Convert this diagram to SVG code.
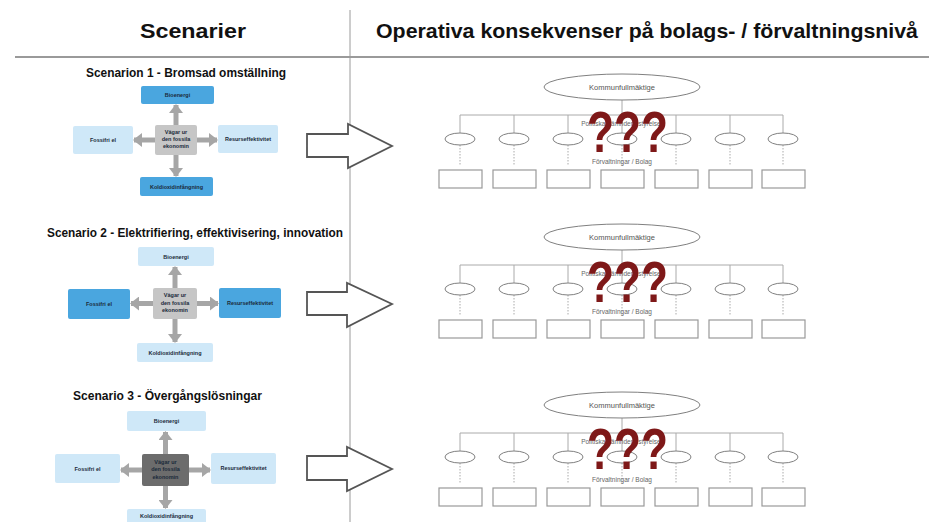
<svg xmlns="http://www.w3.org/2000/svg" width="929" height="522" viewBox="0 0 929 522">
<style>
text{font-family:"Liberation Sans",Arial,sans-serif;}
.h{font-size:21px;font-weight:bold;fill:#111;}
.st{font-size:12.5px;font-weight:bold;fill:#111;}
.bl{font-size:5.5px;font-weight:bold;fill:#1a2a3a;text-anchor:middle;}
.dk{fill:#4aa6df;}
.lt{fill:#cfe8f8;}
.cg{fill:#c6c6c6;}
.cd{fill:#6c6c6c;}
.ga{stroke:#a6a6a6;stroke-width:5;fill:none;}
.blk{fill:#fff;stroke:#555;stroke-width:1.8;stroke-linejoin:miter;}
.ol{fill:#fff;stroke:#808080;stroke-width:1;}
.orl{stroke:#aaa;stroke-width:1;fill:none;}
.dot{stroke:#aaa;stroke-width:1;stroke-dasharray:1.5 1.5;fill:none;}
.rb{fill:#fff;stroke:#999;stroke-width:1.2;}
.ot{font-size:7.5px;fill:#555;text-anchor:middle;}
.os{font-size:6.5px;fill:#666;text-anchor:middle;}
.q{font-size:58px;font-weight:bold;fill:#7e1818;}
</style>
<defs>
<marker id="ah" markerUnits="userSpaceOnUse" markerWidth="9" markerHeight="14" refX="8" refY="7" orient="auto">
<path d="M0,0 L9,7 L0,14 Z" fill="#a6a6a6"/>
</marker>
</defs>
<rect width="929" height="522" fill="#fff"/>
<!-- frame lines -->
<line x1="350" y1="10" x2="350" y2="522" stroke="#9a9a9a" stroke-width="1"/>
<line x1="15" y1="57" x2="929" y2="57" stroke="#9a9a9a" stroke-width="2"/>
<!-- headers -->
<text class="h" x="140" y="38" textLength="106" lengthAdjust="spacingAndGlyphs">Scenarier</text>
<text class="h" x="376" y="38" textLength="542" lengthAdjust="spacingAndGlyphs">Operativa konsekvenser på bolags- / förvaltningsnivå</text>
<!-- scenario titles -->
<text class="st" x="86" y="77" textLength="200" lengthAdjust="spacingAndGlyphs">Scenarion 1 - Bromsad omställning</text>
<text class="st" x="47" y="237" textLength="296" lengthAdjust="spacingAndGlyphs">Scenario 2 - Elektrifiering, effektivisering, innovation</text>
<text class="st" x="73" y="400" textLength="189" lengthAdjust="spacingAndGlyphs">Scenario 3 - Övergångslösningar</text>

<!-- Scenario 1 nodes -->
<g id="s1-bio"><rect class="dk" x="141" y="86" width="73" height="18" rx="2"/><text class="bl" x="177.5" y="97">Bioenergi</text></g>
<g id="s1-fossil"><rect class="lt" x="73" y="126" width="60" height="28" rx="2"/><text class="bl" x="103" y="142">Fossifri el</text></g>
<g id="s1-center"><rect class="cg" x="155" y="125" width="42" height="30" rx="2"/><text class="bl" x="176" y="134">Vägar ur</text><text class="bl" x="176" y="141">den fossila</text><text class="bl" x="176" y="148">ekonomin</text></g>
<g id="s1-res"><rect class="lt" x="218" y="125" width="60" height="28" rx="2"/><text class="bl" x="248" y="141">Resurseffektivitet</text></g>
<g id="s1-kol"><rect class="dk" x="140" y="177" width="73" height="19" rx="2"/><text class="bl" x="176.5" y="188.5">Koldioxidinfångning</text></g>

<!-- Scenario 2 nodes -->
<g id="s2-bio"><rect class="lt" x="138" y="247" width="76" height="19" rx="2"/><text class="bl" x="176" y="258.5">Bioenergi</text></g>
<g id="s2-fossil"><rect class="dk" x="68" y="289" width="62" height="30" rx="2"/><text class="bl" x="99" y="306">Fossifri el</text></g>
<g id="s2-center"><rect class="cg" x="153" y="288" width="44" height="31" rx="2"/><text class="bl" x="175" y="297">Vägar ur</text><text class="bl" x="175" y="304.5">den fossila</text><text class="bl" x="175" y="312">ekonomin</text></g>
<g id="s2-res"><rect class="dk" x="219" y="288" width="62" height="30" rx="2"/><text class="bl" x="250" y="305">Resurseffektivitet</text></g>
<g id="s2-kol"><rect class="lt" x="137" y="343" width="76" height="19" rx="2"/><text class="bl" x="175" y="354.5">Koldioxidinfångning</text></g>

<!-- Scenario 3 nodes -->
<g id="s3-bio"><rect class="lt" x="127" y="411" width="79" height="20" rx="2"/><text class="bl" x="166.5" y="423">Bioenergi</text></g>
<g id="s3-fossil"><rect class="lt" x="55" y="454" width="65" height="29" rx="2"/><text class="bl" x="87.5" y="470.5">Fossifri el</text></g>
<g id="s3-center"><rect class="cd" x="142" y="454" width="47" height="32" rx="2"/><text class="bl" x="165.5" y="463.5">Vägar ur</text><text class="bl" x="165.5" y="471">den fossila</text><text class="bl" x="165.5" y="478.5">ekonomin</text></g>
<g id="s3-res"><rect class="lt" x="211" y="453" width="65" height="31" rx="2"/><text class="bl" x="243.5" y="470">Resurseffektivitet</text></g>
<g id="s3-kol"><rect class="lt" x="127" y="509" width="79" height="18" rx="2"/><text class="bl" x="166.5" y="518">Koldioxidinfångning</text></g>

<!-- block arrows -->
<g id="arrow1"><polygon class="blk" points="307,134 348,134 348,124 392,146 348,168 348,157 307,157"/></g>
<g id="arrow2"><polygon class="blk" points="307,292 347,292 347,283 392,304 347,327 347,315 307,315"/></g>
<g id="arrow3"><polygon class="blk" points="307,456 347,456 347,447 392,469 347,491 347,480 307,480"/></g>

<!-- connectors -->
<g id="connectors">
<line class="ga" x1="176" y1="125" x2="176" y2="105" marker-end="url(#ah)"/>
<line class="ga" x1="176" y1="155" x2="176" y2="176" marker-end="url(#ah)"/>
<line class="ga" x1="155" y1="140" x2="134" y2="140" marker-end="url(#ah)"/>
<line class="ga" x1="197" y1="140" x2="217" y2="140" marker-end="url(#ah)"/>

<line class="ga" x1="175" y1="288" x2="175" y2="267" marker-end="url(#ah)"/>
<line class="ga" x1="175" y1="319" x2="175" y2="342" marker-end="url(#ah)"/>
<line class="ga" x1="153" y1="303.5" x2="131" y2="303.5" marker-end="url(#ah)"/>
<line class="ga" x1="197" y1="303.5" x2="218" y2="303.5" marker-end="url(#ah)"/>

<line class="ga" x1="165.5" y1="454" x2="165.5" y2="432" marker-end="url(#ah)"/>
<line class="ga" x1="165.5" y1="486" x2="165.5" y2="508" marker-end="url(#ah)"/>
<line class="ga" x1="142" y1="470" x2="121" y2="470" marker-end="url(#ah)"/>
<line class="ga" x1="189" y1="470" x2="210" y2="470" marker-end="url(#ah)"/>

<!-- org chart lines -->
<path class="orl" d="M622,100 V115 M460,115 H783 M460,115 V133 M514,115 V133 M568,115 V133 M622,115 V133 M676,115 V133 M730,115 V133 M783,115 V133"/>
<path class="dot" d="M460,145 V166 M514,145 V166 M568,145 V166 M622,145 V166 M676,145 V166 M730,145 V166 M783,145 V166"/>
<path class="orl" d="M622,250 V265 M460,265 H783 M460,265 V283 M514,265 V283 M568,265 V283 M622,265 V283 M676,265 V283 M730,265 V283 M783,265 V283"/>
<path class="dot" d="M460,295 V316 M514,295 V316 M568,295 V316 M622,295 V316 M676,295 V316 M730,295 V316 M783,295 V316"/>
<path class="orl" d="M622,418 V433 M460,433 H783 M460,433 V451 M514,433 V451 M568,433 V451 M622,433 V451 M676,433 V451 M730,433 V451 M783,433 V451"/>
<path class="dot" d="M460,463 V484 M514,463 V484 M568,463 V484 M622,463 V484 M676,463 V484 M730,463 V484 M783,463 V484"/>
</g>

<!-- Org chart 1 -->
<g id="o1-kf"><ellipse class="ol" cx="622" cy="87" rx="78" ry="13"/><text class="ot" x="622" y="90">Kommunfullmäktige</text></g>
<g id="o1-nam"><ellipse class="ol" cx="460" cy="139" rx="15" ry="6"/><ellipse class="ol" cx="514" cy="139" rx="15" ry="6"/><ellipse class="ol" cx="568" cy="139" rx="15" ry="6"/><ellipse class="ol" cx="622" cy="139" rx="15" ry="6"/><ellipse class="ol" cx="676" cy="139" rx="15" ry="6"/><ellipse class="ol" cx="730" cy="139" rx="15" ry="6"/><ellipse class="ol" cx="783" cy="139" rx="15" ry="6"/><text class="os" x="622" y="126">Politiska nämnder / styrelser</text></g>
<g id="o1-forv"><rect class="rb" x="439" y="170" width="43" height="18"/><rect class="rb" x="493" y="170" width="43" height="18"/><rect class="rb" x="547" y="170" width="43" height="18"/><rect class="rb" x="601" y="170" width="43" height="18"/><rect class="rb" x="655" y="170" width="43" height="18"/><rect class="rb" x="709" y="170" width="43" height="18"/><rect class="rb" x="762" y="170" width="43" height="18"/><text class="os" x="622" y="164">Förvaltningar / Bolag</text></g>
<g id="o1-q"><text class="q" x="587" y="152" textLength="81" lengthAdjust="spacingAndGlyphs">???</text></g>

<!-- Org chart 2 -->
<g id="o2-kf"><ellipse class="ol" cx="622" cy="237" rx="78" ry="13"/><text class="ot" x="622" y="240">Kommunfullmäktige</text></g>
<g id="o2-nam"><ellipse class="ol" cx="460" cy="289" rx="15" ry="6"/><ellipse class="ol" cx="514" cy="289" rx="15" ry="6"/><ellipse class="ol" cx="568" cy="289" rx="15" ry="6"/><ellipse class="ol" cx="622" cy="289" rx="15" ry="6"/><ellipse class="ol" cx="676" cy="289" rx="15" ry="6"/><ellipse class="ol" cx="730" cy="289" rx="15" ry="6"/><ellipse class="ol" cx="783" cy="289" rx="15" ry="6"/><text class="os" x="622" y="276">Politiska nämnder / styrelser</text></g>
<g id="o2-forv"><rect class="rb" x="439" y="320" width="43" height="18"/><rect class="rb" x="493" y="320" width="43" height="18"/><rect class="rb" x="547" y="320" width="43" height="18"/><rect class="rb" x="601" y="320" width="43" height="18"/><rect class="rb" x="655" y="320" width="43" height="18"/><rect class="rb" x="709" y="320" width="43" height="18"/><rect class="rb" x="762" y="320" width="43" height="18"/><text class="os" x="622" y="314">Förvaltningar / Bolag</text></g>
<g id="o2-q"><text class="q" x="587" y="302" textLength="81" lengthAdjust="spacingAndGlyphs">???</text></g>

<!-- Org chart 3 -->
<g id="o3-kf"><ellipse class="ol" cx="622" cy="405" rx="78" ry="13"/><text class="ot" x="622" y="408">Kommunfullmäktige</text></g>
<g id="o3-nam"><ellipse class="ol" cx="460" cy="457" rx="15" ry="6"/><ellipse class="ol" cx="514" cy="457" rx="15" ry="6"/><ellipse class="ol" cx="568" cy="457" rx="15" ry="6"/><ellipse class="ol" cx="622" cy="457" rx="15" ry="6"/><ellipse class="ol" cx="676" cy="457" rx="15" ry="6"/><ellipse class="ol" cx="730" cy="457" rx="15" ry="6"/><ellipse class="ol" cx="783" cy="457" rx="15" ry="6"/><text class="os" x="622" y="444">Politiska nämnder / styrelser</text></g>
<g id="o3-forv"><rect class="rb" x="439" y="488" width="43" height="18"/><rect class="rb" x="493" y="488" width="43" height="18"/><rect class="rb" x="547" y="488" width="43" height="18"/><rect class="rb" x="601" y="488" width="43" height="18"/><rect class="rb" x="655" y="488" width="43" height="18"/><rect class="rb" x="709" y="488" width="43" height="18"/><rect class="rb" x="762" y="488" width="43" height="18"/><text class="os" x="622" y="482">Förvaltningar / Bolag</text></g>
<g id="o3-q"><text class="q" x="587" y="469" textLength="81" lengthAdjust="spacingAndGlyphs">???</text></g>
</svg>
